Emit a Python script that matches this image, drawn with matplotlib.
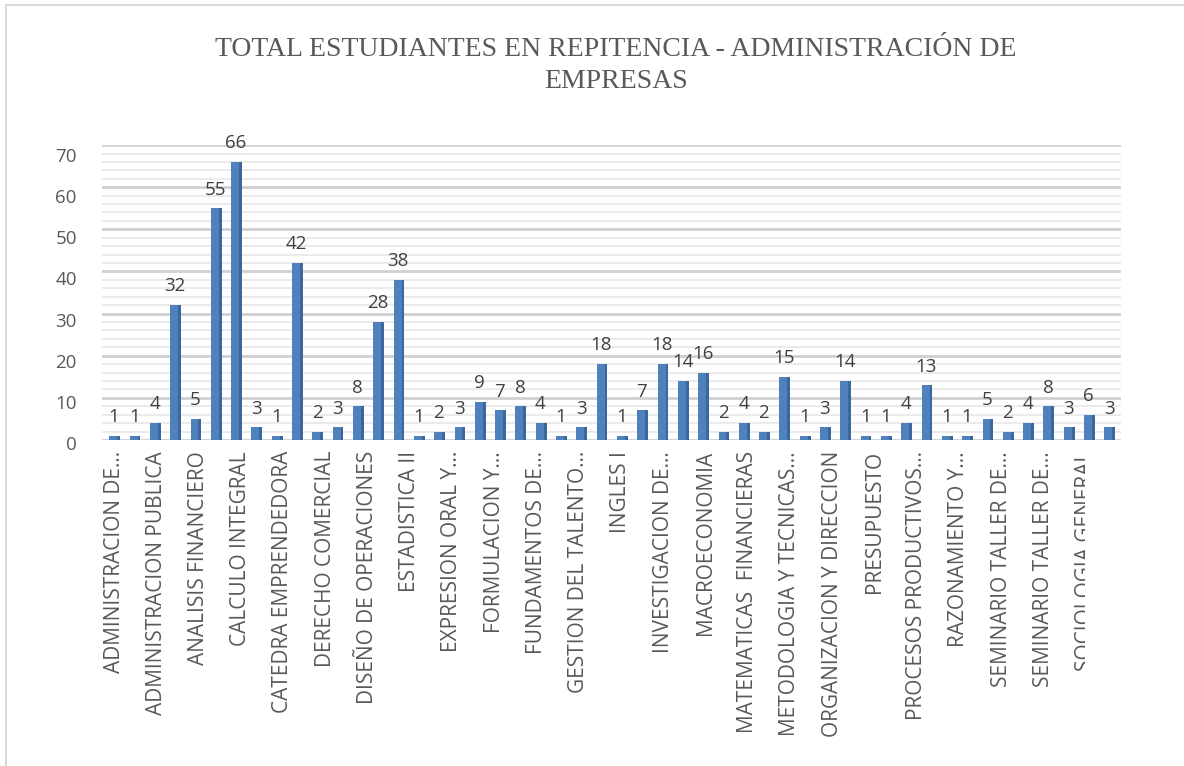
import numpy as np
import matplotlib.pyplot as plt
from matplotlib.patches import Rectangle
from matplotlib.transforms import Bbox, TransformedBbox

# values, one per bar (50 courses)
values = [1, 1, 4, 32, 5, 55, 66, 3, 1, 42,
          2, 3, 8, 28, 38, 1, 2, 3, 9, 7,
          8, 4, 1, 3, 18, 1, 7, 18, 14, 16,
          2, 4, 2, 15, 1, 3, 14, 1, 1, 4,
          13, 1, 1, 5, 2, 4, 8, 3, 6, 3]

# Excel only prints every second category name on the axis
shown_labels = ['ADMINISTRACION DE...', 'ADMINISTRACION PUBLICA', 'ANALISIS FINANCIERO',
                'CALCULO INTEGRAL', 'CATEDRA EMPRENDEDORA', 'DERECHO COMERCIAL',
                'DISEÑO DE OPERACIONES', 'ESTADISTICA II', 'EXPRESION ORAL Y...',
                'FORMULACION Y...', 'FUNDAMENTOS DE...', 'GESTION DEL TALENTO...',
                'INGLES I', 'INVESTIGACION DE...', 'MACROECONOMIA',
                'MATEMATICAS  FINANCIERAS', 'METODOLOGIA Y TECNICAS...',
                'ORGANIZACION Y DIRECCION', 'PRESUPUESTO', 'PROCESOS PRODUCTIVOS...',
                'RAZONAMIENTO Y...', 'SEMINARIO TALLER DE...', 'SEMINARIO TALLER DE...',
                'SOCIOLOGIA GENERAL']
yticks = [0, 10, 20, 30, 40, 50, 60, 70]

title = 'TOTAL ESTUDIANTES EN REPITENCIA - ADMINISTRACIÓN DE\nEMPRESAS'

txt = '#595959'
fig = plt.figure(figsize=(11.84, 7.66), dpi=100)
fig.patches.append(Rectangle((0.005, -0.01), 1.2, 1.003, transform=fig.transFigure,
                             fill=False, edgecolor='#d9d9d9', lw=1.5))

pos = [0.086, 0.4256, 0.861, 0.385]
ax = fig.add_axes(pos)
x = np.arange(len(values))

# front face + darker side face, fake 3d like the excel chart
ax.bar(x - 0.03, values, width=0.40, color='#4f81bd', zorder=3)
ax.bar(x + 0.23, values, width=0.14, color='#3b679c', zorder=3)

for xi, v in zip(x, values):
    ax.text(xi, v + 2.3, str(v), ha='center', va='bottom', fontsize=13.5,
            color='#404040', family='Open Sans', zorder=4)

ax.set_xlim(-0.6, len(values) - 0.4)
ax.set_ylim(0, 70)
ax.set_yticks(yticks)
ax.set_yticks(np.arange(0, 71, 2), minor=True)
ax.tick_params(axis='y', which='both', length=0, labelleft=False)
ax.grid(axis='y', which='major', color='#d0d0d0', lw=2, zorder=0)
ax.grid(axis='y', which='minor', color='#e8e8e8', lw=1.2, zorder=0)

# value labels sit on the front plane of the 3d box, slightly lower than the back-wall grid
extra = 10 / 766
lab_ax = fig.add_axes([pos[0], pos[1] - extra, pos[2], pos[3] + extra], frameon=False)
lab_ax.set_ylim(-1.7, 72.4)
lab_ax.set_yticks(yticks)
lab_ax.set_yticklabels([str(t) for t in yticks], fontsize=13.5, color=txt, family='Open Sans')
lab_ax.tick_params(axis='y', length=0, pad=18)
lab_ax.set_xticks([])
lab_ax.patch.set_visible(False)

# labels drift a little to the right of the bars (perspective), as in the picture
tick_pos = np.arange(len(shown_labels)) * 2.08
ax.set_xticks(tick_pos)
ax.set_xticklabels(shown_labels, rotation=90, fontsize=15, color=txt,
                   family='Open Sans', ha='center', va='top')
ax.tick_params(axis='x', length=0, pad=8)

# last label is cut off in the original
last = ax.get_xticklabels()[-1]
last.set_clip_on(True)
last.set_clip_box(TransformedBbox(Bbox([[0, 0], [1085 / 1184, 1]]), fig.transFigure))

for s in ax.spines.values():
    s.set_visible(False)
ax.axhline(0, color='#c6d4e8', lw=1.5, ls=(0, (4, 3)), zorder=2)

fig.text(0.52, 0.9145, title, ha='center', va='center', fontsize=20,
         color=txt, family='Liberation Serif', linespacing=1.4)

fig.savefig('out.png', dpi=100)
